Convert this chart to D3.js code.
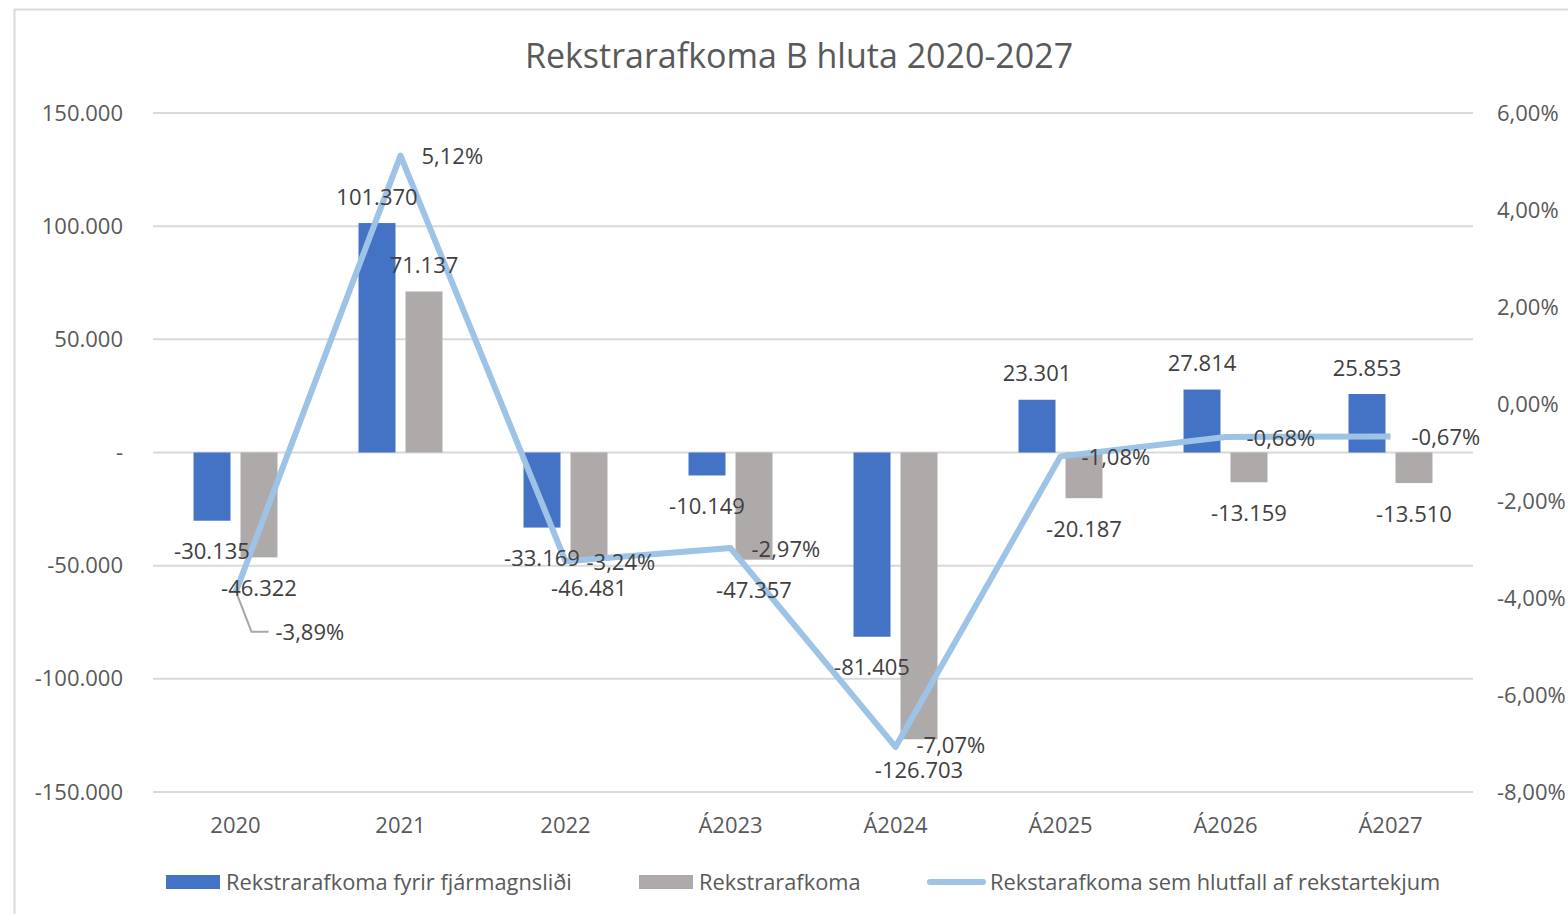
<!DOCTYPE html>
<html>
<head>
<meta charset="utf-8">
<script src="https://cdn.jsdelivr.net/npm/d3@7"></script>
<style>
  body { margin: 0; background: #fff; }
  text { font-family: "Open Sans", sans-serif; }
</style>
</head>
<body>
<div id="chart"></div>
<script>
// chart values
var categories = ["2020", "2021", "2022", "Á2023", "Á2024", "Á2025", "Á2026", "Á2027"];
var seriesNames = ["Rekstrarafkoma fyrir fjármagnsliði", "Rekstrarafkoma", "Rekstarafkoma sem hlutfall af rekstartekjum"];
var fyrirFjarmagnslidi = [-30135, 101370, -33169, -10149, -81405, 23301, 27814, 25853];
var rekstrarafkoma = [-46322, 71137, -46481, -47357, -126703, -20187, -13159, -13510];
var hlutfall = [-0.0389, 0.0512, -0.0324, -0.0297, -0.0707, -0.0108, -0.0068, -0.0067];
var leftTicks = [-150000, -100000, -50000, 0, 50000, 100000, 150000];
var rightTicks = [-0.08, -0.06, -0.04, -0.02, 0, 0.02, 0.04, 0.06];

var colors = ["#4472C4", "#AEAAAA", "#9DC3E6"];

// dimensions
var W = 1568, H = 914;
var margin = {top: 113, right: 95, bottom: 122, left: 153},
    width = W - margin.left - margin.right,
    height = H - margin.top - margin.bottom;

// icelandic number format, plain hyphen for minus
var locale = d3.formatLocale({decimal: ",", thousands: ".", grouping: [3], currency: ["", ""], minus: "-"});
var fmtNum = locale.format(",.0f");
var fmtPct = locale.format(".2%");

var svg = d3.select("#chart").append("svg")
  .attr("width", W)
  .attr("height", H);

// chart frame
svg.append("rect")
  .attr("x", 14.5).attr("y", 9.5)
  .attr("width", W + 20).attr("height", H + 20)
  .attr("fill", "none")
  .attr("stroke", "#D9D9D9")
  .attr("stroke-width", 2);

// title
svg.append("text")
  .attr("x", 799).attr("y", 68)
  .attr("text-anchor", "middle")
  .style("font-size", "34px")
  .style("fill", "#595959")
  .text("Rekstrarafkoma B hluta 2020-2027");

var g = svg.append("g")
  .attr("transform", "translate(" + margin.left + "," + margin.top + ")");

// scales
var x = d3.scaleBand().domain(categories).range([0, width]);
var xSub = d3.scaleBand().domain([0, 1]).range([0, x.bandwidth()])
  .paddingInner(0.213).paddingOuter(0.862);
var y = d3.scaleLinear().domain([-150000, 150000]).range([height, 0]);
var y2 = d3.scaleLinear().domain([-0.08, 0.06]).range([height, 0]);

// gridlines
g.append("g").selectAll("line")
  .data(leftTicks)
  .enter().append("line")
    .attr("x1", 0).attr("x2", width)
    .attr("y1", function(d) { return y(d); })
    .attr("y2", function(d) { return y(d); })
    .attr("stroke", "#D9D9D9")
    .attr("stroke-width", 2);

// left axis
var yAxis = g.append("g")
  .call(d3.axisLeft(y).tickValues(leftTicks).tickSize(0).tickPadding(30)
    .tickFormat(function(d) { return d === 0 ? "-" : fmtNum(d); }));
yAxis.select(".domain").remove();

// right axis
var y2Axis = g.append("g")
  .attr("transform", "translate(" + width + ",0)")
  .call(d3.axisRight(y2).tickValues(rightTicks).tickSize(0).tickPadding(24)
    .tickFormat(fmtPct));
y2Axis.select(".domain").remove();

// bottom axis
var xAxis = g.append("g")
  .attr("transform", "translate(0," + height + ")")
  .call(d3.axisBottom(x).tickSize(0).tickPadding(25));
xAxis.select(".domain").remove();

svg.selectAll(".tick text")
  .style("font-family", "'Open Sans', sans-serif")
  .style("font-size", "22px")
  .style("fill", "#595959");

// bars
var barData = [];
categories.forEach(function(c, i) {
  barData.push({cat: c, s: 0, v: fyrirFjarmagnslidi[i]});
  barData.push({cat: c, s: 1, v: rekstrarafkoma[i]});
});

g.append("g").selectAll("rect")
  .data(barData)
  .enter().append("rect")
    .attr("x", function(d) { return x(d.cat) + xSub(d.s); })
    .attr("y", function(d) { return y(Math.max(0, d.v)); })
    .attr("width", xSub.bandwidth())
    .attr("height", function(d) { return Math.abs(y(d.v) - y(0)); })
    .attr("fill", function(d) { return colors[d.s]; });

// line
var line = d3.line()
  .x(function(d, i) { return x(categories[i]) + x.bandwidth() / 2; })
  .y(function(d) { return y2(d); });

g.append("path")
  .datum(hlutfall)
  .attr("d", line)
  .attr("fill", "none")
  .attr("stroke", colors[2])
  .attr("stroke-width", 6)
  .attr("stroke-linejoin", "round");

// bar labels
g.append("g").selectAll("text")
  .data(barData)
  .enter().append("text")
    .attr("x", function(d) { return x(d.cat) + xSub(d.s) + xSub.bandwidth() / 2; })
    .attr("y", function(d) { return d.v >= 0 ? y(d.v) - 26 : y(d.v) + 31; })
    .attr("dy", "0.35em")
    .attr("text-anchor", "middle")
    .style("font-size", "22px")
    .style("fill", "#404040")
    .text(function(d) { return fmtNum(d.v); });

// line labels
g.append("g").selectAll("text")
  .data(hlutfall)
  .enter().append("text")
    .attr("x", function(d, i) {
      var px = x(categories[i]) + x.bandwidth() / 2;
      return i === 0 ? px + 40 : px + 21;
    })
    .attr("y", function(d, i) { return i === 0 ? y2(d) + 40 : (i === 4 ? y2(d) - 2 : y2(d) + 1); })
    .attr("dy", "0.35em")
    .style("font-size", "22px")
    .style("fill", "#404040")
    .text(function(d) { return fmtPct(d); });

// leader line for the first label
var p0x = x(categories[0]) + x.bandwidth() / 2, p0y = y2(hlutfall[0]);
g.append("path")
  .attr("d", "M" + (p0x + 2) + "," + (p0y + 3) + "L" + (p0x + 16) + "," + (p0y + 39) + "L" + (p0x + 33) + "," + (p0y + 39))
  .attr("fill", "none")
  .attr("stroke", "#A6A6A6")
  .attr("stroke-width", 2);

// legend
var legendItems = [
  {name: seriesNames[0], x: 166, type: "rect", color: colors[0]},
  {name: seriesNames[1], x: 639, type: "rect", color: colors[1]},
  {name: seriesNames[2], x: 928, type: "line", color: colors[2]}
];
var legend = svg.append("g").selectAll("g")
  .data(legendItems)
  .enter().append("g")
    .attr("transform", function(d) { return "translate(" + d.x + ",882)"; });

legend.filter(function(d) { return d.type === "rect"; })
  .append("rect")
    .attr("x", 0).attr("y", -7)
    .attr("width", 54).attr("height", 14)
    .attr("fill", function(d) { return d.color; });

legend.filter(function(d) { return d.type === "line"; })
  .append("line")
    .attr("x1", 2).attr("x2", 55)
    .attr("y1", 0).attr("y2", 0)
    .attr("stroke", function(d) { return d.color; })
    .attr("stroke-width", 6)
    .attr("stroke-linecap", "round");

legend.append("text")
  .attr("x", function(d) { return d.type === "line" ? 62 : 60; })
  .attr("y", 0)
  .attr("dy", "0.35em")
  .style("font-size", "21.8px")
  .style("fill", "#595959")
  .text(function(d) { return d.name; });
</script>
</body>
</html>
